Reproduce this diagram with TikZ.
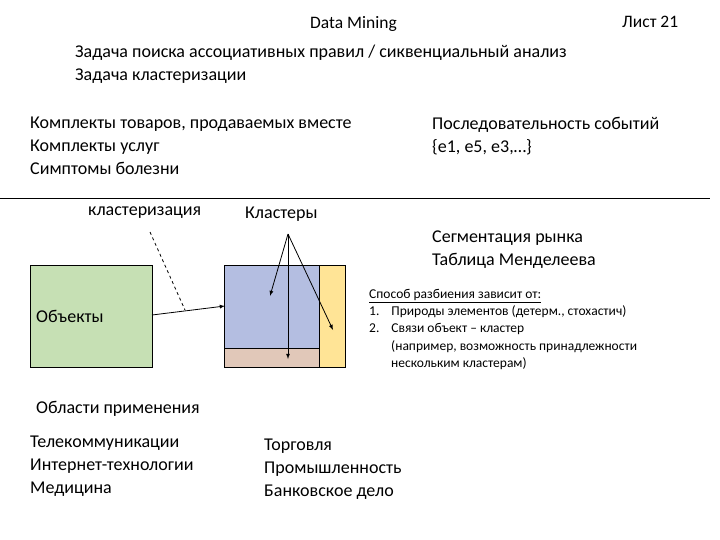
\documentclass[tikz,border=0pt]{standalone}
\usepackage{fontspec}
\setmainfont{Carlito}
\definecolor{cgreen}{RGB}{198,224,180}
\definecolor{cblue}{RGB}{180,190,225}
\definecolor{cpink}{RGB}{225,200,185}
\definecolor{cyel}{RGB}{255,228,150}
\begin{document}
\begin{tikzpicture}[x=1pt,y=-1pt,
 txt/.style={anchor=north west,inner sep=0pt,align=left,font=\fontsize{18}{23}\selectfont},
 sm/.style={anchor=north west,inner sep=0pt,align=left,font=\fontsize{13.5}{17.5}\selectfont},
 box/.style={draw,inner sep=0pt},
 arr/.style={-latex,thick}]
\useasboundingbox (0,0) rectangle (720,540);
\node[txt,font=\fontsize{17.5}{20}\selectfont] (t1) at (310,16) {Data Mining};
\node[txt,font=\fontsize{17.5}{20}\selectfont] (t2) at (622,16) {Лист 21};
\node[txt] (t3) at (75,45) {Задача поиска ассоциативных правил / сиквенциальный анализ\\Задача кластеризации};
\node[txt] (t4) at (30,117) {Комплекты товаров, продаваемых вместе\\Комплекты услуг\\Симптомы болезни};
\node[txt] (t5) at (432,117) {Последовательность событий\\\{e1, e5, e3,…\}};
\draw (0,198) -- (710,198);
\node[txt] (t6) at (88,207) {кластеризация};
\node[txt] (t7) at (245,207) {Кластеры};
\node[txt] (t8) at (432,231) {Сегментация рынка\\Таблица Менделеева};
\node[box,fill=cgreen,minimum width=122,minimum height=102,anchor=north west] (g) at (30,265) {};
\node[txt,anchor=west] (ob) at (36,316) {Объекты};
\fill[cblue] (224,265) rectangle (319,348);
\fill[cpink] (224,348) rectangle (319,367);
\fill[cyel] (319,265) rectangle (345,367);
\draw (224,265) rectangle (345,367);
\draw (224,348) -- (319,348);
\draw (319,265) -- (319,367);
\coordinate (a0) at (152,315);
\coordinate (a1) at (225,306);
\coordinate (dm) at (185,310);
\coordinate (d0) at (150,232);
\draw[arr] (a0) -- (a1);
\draw[dashed,thick] (d0) -- (dm);
\coordinate (ap) at (288,234);
\coordinate (k1) at (270,296);
\coordinate (k2) at (288,359);
\coordinate (k3) at (333,330);
\draw[arr] (ap) -- (k1);
\draw[arr] (ap) -- (k2);
\draw[arr] (ap) -- (k3);
\node[sm] (sp) at (369,289) {\underline{Способ разбиения зависит от:}};
\node[sm] (l1) at (369,305) {1.\hspace{12pt}Природы элементов (детерм., стохастич)\\2.\hspace{12pt}Связи объект – кластер\\\hspace{22pt}(например, возможность принадлежности\\\hspace{22pt}нескольким кластерам)};
\node[txt] (oa) at (36,401) {Области применения};
\node[txt] (t9) at (30,436) {Телекоммуникации\\Интернет-технологии\\Медицина};
\node[txt] (t10) at (264,439) {Торговля\\Промышленность\\Банковское дело};
\end{tikzpicture}
\end{document}
